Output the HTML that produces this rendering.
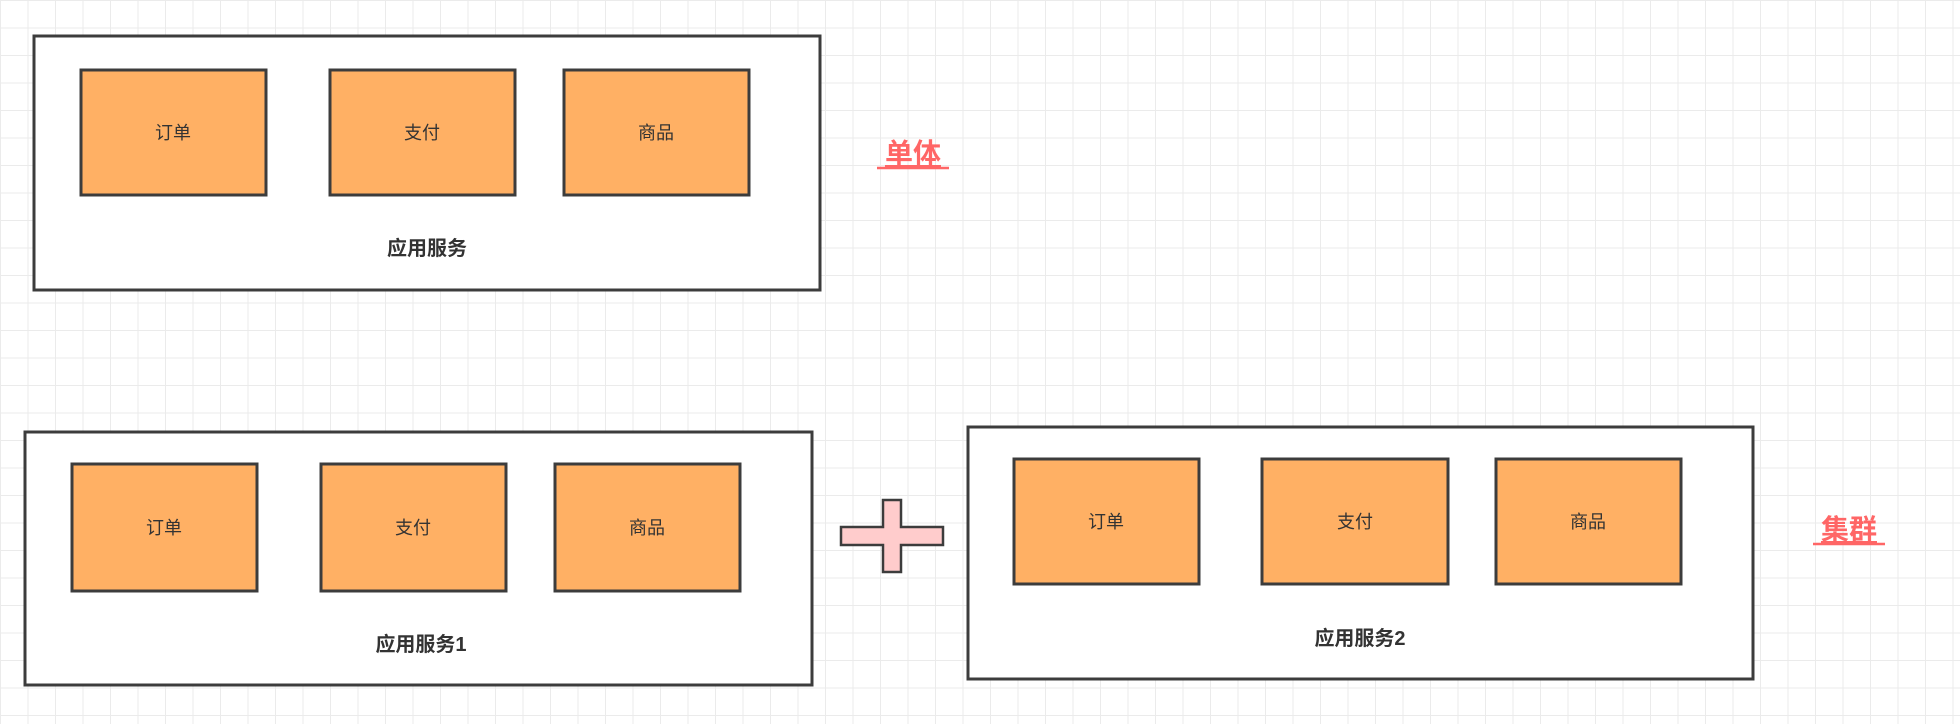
<!DOCTYPE html>
<html><head><meta charset="utf-8"><style>
html,body{margin:0;padding:0;}
body{width:1960px;height:724px;overflow:hidden;background:#fff;
background-image:linear-gradient(to right,#ebebeb 1px,transparent 1px),linear-gradient(to bottom,#ebebeb 1px,transparent 1px);
background-size:27.5px 27.5px;background-position:0 0;}
svg{position:absolute;left:0;top:0;}
text{font-family:"Liberation Sans","Noto Sans CJK SC",sans-serif;}
</style></head><body>
<svg width="1960" height="724" xmlns="http://www.w3.org/2000/svg">
<g stroke="#3c3c3c" stroke-width="3">
<rect x="34" y="36" width="786" height="254" fill="#fff"/>
<rect x="81" y="70" width="185" height="125" fill="#ffb064"/>
<rect x="330" y="70" width="185" height="125" fill="#ffb064"/>
<rect x="564" y="70" width="185" height="125" fill="#ffb064"/>

<rect x="25" y="432" width="787" height="253" fill="#fff"/>
<rect x="72" y="464" width="185" height="127" fill="#ffb064"/>
<rect x="321" y="464" width="185" height="127" fill="#ffb064"/>
<rect x="555" y="464" width="185" height="127" fill="#ffb064"/>

<rect x="968" y="427" width="785" height="252" fill="#fff"/>
<rect x="1014" y="459" width="185" height="125" fill="#ffb064"/>
<rect x="1262" y="459" width="186" height="125" fill="#ffb064"/>
<rect x="1496" y="459" width="185" height="125" fill="#ffb064"/>

<path d="M883 500 H901 V527 H943 V545 H901 V572 H883 V545 H841 V527 H883 Z" fill="#ffcccc" stroke-width="2.5"/>
</g>
<g font-size="18" fill="#333" text-anchor="middle" dominant-baseline="central">
<text x="173" y="133">订单</text><text x="422" y="133">支付</text><text x="656" y="133">商品</text>
<text x="164" y="528">订单</text><text x="413" y="528">支付</text><text x="647" y="528">商品</text>
<text x="1106" y="522">订单</text><text x="1355" y="522">支付</text><text x="1588" y="522">商品</text>
</g>
<g font-size="20" font-weight="bold" fill="#333" text-anchor="middle" dominant-baseline="central">
<text x="427" y="249">应用服务</text>
<text x="421" y="645">应用服务1</text>
<text x="1360" y="639">应用服务2</text>
</g>
<g font-size="28" font-weight="bold" fill="#ff6666" text-anchor="middle" text-decoration="underline">
<text x="913" y="163" text-decoration="underline">单体</text>
<text x="1849" y="539" text-decoration="underline">集群</text>
</g>
<line x1="877" y1="168" x2="949" y2="168" stroke="#ff6666" stroke-width="2.5"/>
<line x1="1813" y1="544" x2="1885" y2="544" stroke="#ff6666" stroke-width="2.5"/>
</svg>
</body></html>
